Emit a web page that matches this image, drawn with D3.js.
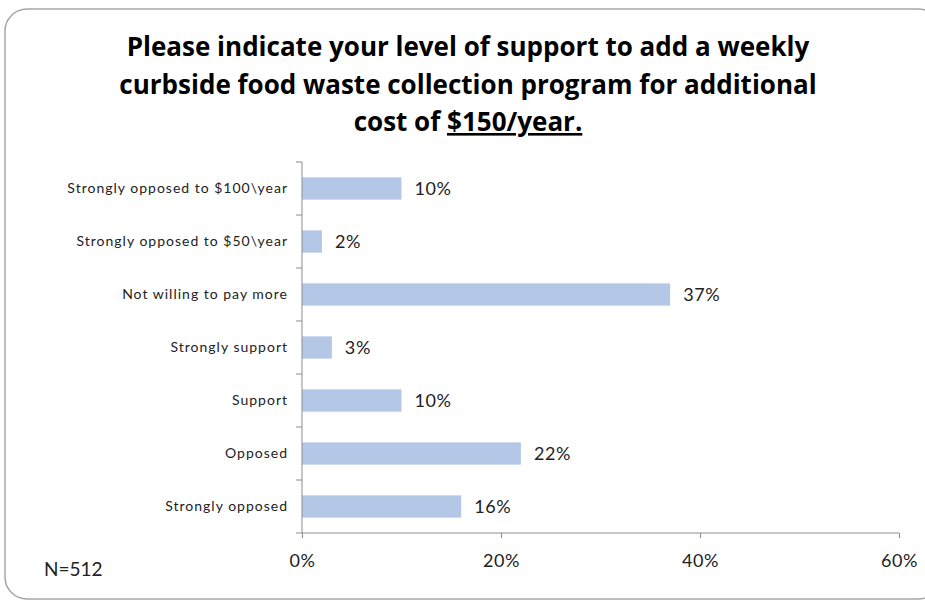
<!DOCTYPE html>
<html>
<head>
<meta charset="utf-8">
<script src="https://cdn.jsdelivr.net/npm/d3@7"></script>
<style>
  body { margin: 0; background: #fff; }
  svg text { font-family: Lato, "Open Sans", sans-serif; }
</style>
</head>
<body>
<svg id="chart" width="925" height="605"></svg>
<script>
// survey answers, top to bottom as shown
const categories = ["Strongly opposed to $100\\year", "Strongly opposed to $50\\year", "Not willing to pay more",
  "Strongly support", "Support", "Opposed", "Strongly opposed"];
const percents = [10, 2, 37, 3, 10, 22, 16];
const xTicks = [0, 20, 40, 60];
const titleLines = ["Please indicate your level of support to add a weekly",
  "curbside food waste collection program for additional", "cost of "];

const svg = d3.select("#chart");

// rounded frame
svg.append("rect")
  .attr("x", 5).attr("y", 9).attr("width", 935).attr("height", 590)
  .attr("rx", 22).attr("ry", 22)
  .attr("fill", "#fff").attr("stroke", "#a6a6a6").attr("stroke-width", 1.5);

const plotLeft = 302, plotRight = 899, plotTop = 162, plotBottom = 533;

const x = d3.scaleLinear().domain([0, 60]).range([plotLeft, plotRight]);
const y = d3.scaleBand().domain(categories).range([plotTop, plotBottom]).paddingInner(0.58).paddingOuter(0.29);

// title
const title = svg.append("g").attr("fill", "#000");
titleLines.slice(0, 2).forEach(function(t, i) {
  title.append("text")
    .attr("x", 468).attr("y", 56 + i * 37.5)
    .attr("text-anchor", "middle")
    .style("font-family", "'Open Sans', sans-serif")
    .style("font-weight", "700")
    .style("font-size", "26px")
    .text(t);
});
const last = title.append("text")
  .attr("x", 468).attr("y", 131)
  .attr("text-anchor", "middle")
  .style("font-family", "'Open Sans', sans-serif")
  .style("font-weight", "700")
  .style("font-size", "26px");
last.append("tspan").text(titleLines[2]);
last.append("tspan").attr("text-decoration", "underline").text("$150/year.");

// bars
svg.append("g").selectAll("rect")
  .data(percents)
  .enter().append("rect")
  .attr("x", x(0))
  .attr("y", function(d, i) { return y(categories[i]); })
  .attr("width", function(d) { return x(d) - x(0); })
  .attr("height", y.bandwidth())
  .attr("fill", "#b4c7e7");

// value labels
svg.append("g").selectAll("text")
  .data(percents)
  .enter().append("text")
  .attr("x", function(d) { return x(d) + 13; })
  .attr("y", function(d, i) { return y(categories[i]) + y.bandwidth() / 2; })
  .attr("dy", "0.35em")
  .style("font-size", "18px")
  .style("letter-spacing", "0.6px")
  .attr("fill", "#222")
  .text(function(d) { return d + "%"; });

// x axis
const xAxis = d3.axisBottom(x).tickValues(xTicks).tickSize(6).tickFormat(function(d) { return d + "%"; });
const gx = svg.append("g")
  .attr("transform", "translate(0," + plotBottom + ")")
  .call(xAxis);
gx.select(".domain").attr("stroke", "#8c8c8c").attr("d", "M" + plotLeft + ",0H" + plotRight);
gx.selectAll(".tick line").attr("stroke", "#8c8c8c").attr("y1", 0).attr("y2", 5);
gx.selectAll(".tick text").attr("y", 21).style("font-size", "18px").style("letter-spacing", "0.6px").attr("fill", "#222");

// y axis with ticks between categories
const yAxis = d3.axisLeft(y).tickSize(0).tickPadding(14);
const gy = svg.append("g")
  .attr("transform", "translate(" + plotLeft + ",0)")
  .call(yAxis);
gy.select(".domain").attr("stroke", "#8c8c8c").attr("d", "M0," + plotTop + "V" + plotBottom);
gy.selectAll(".tick text").style("font-size", "14px").style("letter-spacing", "1px").attr("fill", "#222");
const step = y.step();
svg.append("g").selectAll("line")
  .data(d3.range(categories.length + 1))
  .enter().append("line")
  .attr("x1", plotLeft - 6).attr("x2", plotLeft)
  .attr("y1", function(i) { return plotTop + i * step; })
  .attr("y2", function(i) { return plotTop + i * step; })
  .attr("stroke", "#8c8c8c");

// sample size
svg.append("text")
  .attr("x", 44).attr("y", 576)
  .style("font-size", "19px")
  .attr("fill", "#222")
  .text("N=512");
</script>
</body>
</html>
